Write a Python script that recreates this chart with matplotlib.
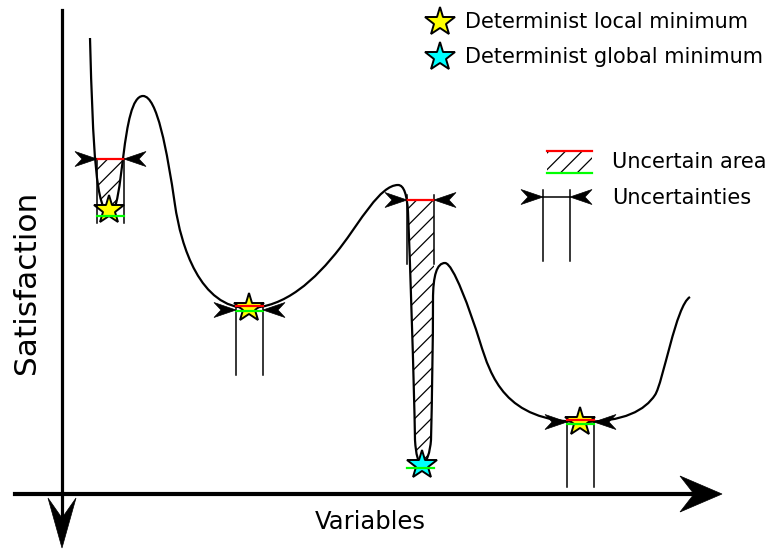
import numpy as np
import matplotlib
matplotlib.use("Agg")
import matplotlib.pyplot as plt
from matplotlib.path import Path
from matplotlib.patches import PathPatch, Rectangle, Polygon

plt.rcParams['hatch.linewidth'] = 0.9
plt.rcParams['hatch.color'] = 'black'

# schematic drawn in pixel units (x right, y down)
# the satisfaction curve as cubic bezier nodes: start, then (c1, c2, end) per segment
curve_nodes = [(90, 38),
               (93, 150), (96, 213), (110, 213),
               (124, 213), (121, 96), (143, 96),
               (157, 96), (167, 150), (175, 205),
               (181, 246), (200, 308), (248, 308),
               (285, 308), (315, 280), (340, 248),
               (360, 222), (380, 185), (398, 185),
               (404, 185), (407, 195), (408, 212),
               (410, 260), (414, 380), (415, 440),
               (416, 455), (418, 463), (422, 463),
               (427, 463), (430, 452), (431, 440),
               (432, 400), (433, 340), (433, 300),
               (433, 275), (437, 263), (445, 263),
               (453, 263), (470, 310), (480, 342),
               (491, 377), (505, 421), (580, 422),
               (625, 422), (645, 410), (655, 395),
               (663, 383), (676, 305), (690, 297)]

# minima
star_x = [109, 249, 422, 580]
star_y = [210, 308, 465, 422]
star_col = ['#ffff00', '#ffff00', '#00ffff', '#ffff00']

# uncertainty bars around each minimum
unc_left = [97, 236, 407, 567]
unc_right = [124, 263, 434, 594]
red_y = [159, 306, 200, 420]
green_y = [216, 311, 468, 424]
bar_top = [159, 303, 195, 417]
bar_bottom = [223, 375, 264, 487]
arrow_y = [159, 310, 200, 422]

# hatched wells: (first node, last node, x0, x1, y0, y1)
wells = [(0, 6, 97, 124, 159, 220), (18, 36, 407, 434, 200, 470)]

fig = plt.figure(figsize=(7.71, 5.5), dpi=100)
ax = fig.add_axes([0, 0, 1, 1])
ax.set_xlim(0, 771)
ax.set_ylim(550, 0)
ax.axis('off')


def dart(x, y, d, length=22, half=7.5, notch=7, color='black'):
    # concave arrow head, tip at (x, y)
    if d == 'down':
        pts = [(x, y), (x - half, y - length), (x, y - length + notch), (x + half, y - length)]
    elif d == 'right':
        pts = [(x, y), (x - length, y - half), (x - length + notch, y), (x - length, y + half)]
    else:
        pts = [(x, y), (x + length, y - half), (x + length - notch, y), (x + length, y + half)]
    ax.add_patch(Polygon(pts, closed=True, facecolor=color, edgecolor=color, lw=0.5, zorder=6))


def bezier_path(nodes, close_pts=None):
    verts = [nodes[0]]
    codes = [Path.MOVETO]
    for p in nodes[1:]:
        verts.append(p)
        codes.append(Path.CURVE4)
    if close_pts:
        for p in close_pts:
            verts.append(p)
            codes.append(Path.LINETO)
        verts.append(nodes[0])
        codes.append(Path.CLOSEPOLY)
    return Path(verts, codes)


# hatched uncertain areas, clipped by the curve
for i0, i1, x0, x1, y0, y1 in wells:
    sub = curve_nodes[i0:i1 + 1]
    top = min(p[1] for p in sub) - 5
    clip = bezier_path(sub, [(sub[-1][0], top), (sub[0][0], top)])
    r = Rectangle((x0, y0), x1 - x0, y1 - y0, facecolor='none', edgecolor='black',
                  lw=0, hatch='//', zorder=1)
    ax.add_patch(r)
    r.set_clip_path(clip, ax.transData)

ax.add_patch(PathPatch(bezier_path(curve_nodes), facecolor='none', edgecolor='black',
                       lw=1.6, zorder=2))

# stars
for x, y, c in zip(star_x, star_y, star_col):
    ax.plot(x, y, marker='*', ms=22, mfc=c, mec='black', mew=1.4, zorder=3)

# uncertainty bars
for i in range(len(star_x)):
    for xv in (unc_left[i], unc_right[i]):
        ax.plot([xv, xv], [bar_top[i], bar_bottom[i]], color='black', lw=1.1, zorder=4)
    ax.plot([unc_left[i], unc_right[i]], [green_y[i], green_y[i]], color='#00ff00', lw=1.6, zorder=5)
    ax.plot([unc_left[i], unc_right[i]], [red_y[i], red_y[i]], color='#ff0000', lw=1.6, zorder=5)
    dart(unc_left[i], arrow_y[i], 'right')
    dart(unc_right[i], arrow_y[i], 'left')

# axes
ax.plot([62, 62], [10, 520], color='black', lw=2.3, zorder=2)
dart(62, 548, 'down', length=50, half=14, notch=20)
ax.plot([15, 700], [494, 494], color='black', lw=3, zorder=2)
dart(722, 494, 'right', length=42, half=18, notch=14)

ax.text(27, 282, 'Satisfaction', rotation=90, fontsize=22.5, ha='center', va='center')
ax.text(370, 522, 'Variables', fontsize=17.5, ha='center', va='center')

# legend
legend_star_x = 440
legend_star_y = [22, 57]
legend_star_col = ['#ffff00', '#00ffff']
legend_labels = ['Determinist local minimum', 'Determinist global minimum']
for y, c, s in zip(legend_star_y, legend_star_col, legend_labels):
    ax.plot(legend_star_x, y, marker='*', ms=22, mfc=c, mec='black', mew=1.4, zorder=3)
    ax.text(465, y, s, fontsize=15, ha='left', va='center')

r = Rectangle((547, 151), 45, 22, facecolor='none', edgecolor='black', lw=0, hatch='//')
ax.add_patch(r)
ax.plot([547, 592], [151, 151], color='#ff0000', lw=1.6)
ax.plot([547, 592], [173, 173], color='#00ff00', lw=1.6)
ax.text(612, 162, 'Uncertain area', fontsize=15, ha='left', va='center')

ax.plot([543, 543], [190, 261], color='black', lw=1.1)
ax.plot([570, 570], [190, 261], color='black', lw=1.1)
ax.plot([543, 570], [197, 197], color='black', lw=1.1)
dart(543, 197, 'right')
dart(570, 197, 'left')
ax.text(612, 198, 'Uncertainties', fontsize=15, ha='left', va='center')

fig.savefig('out.png', dpi=100)
